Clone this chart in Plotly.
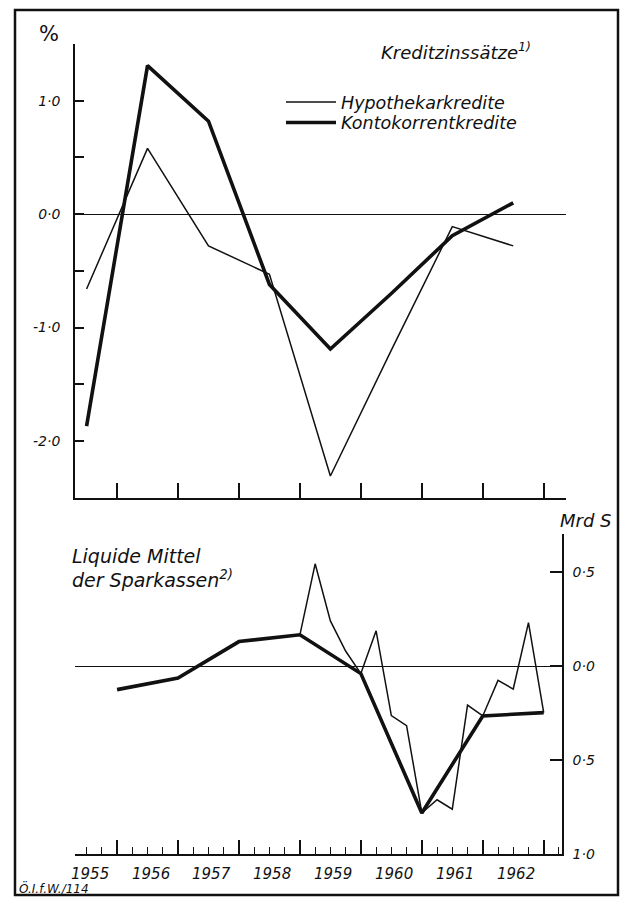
import plotly.graph_objects as go

# ---------------- data ----------------
# Top panel: Kreditzinssätze (annual, plotted at mid-year)
rate_years = [1955, 1956, 1957, 1958, 1959, 1960, 1961, 1962]
hypothekarkredite = [-0.66, 0.58, -0.28, -0.53, -2.31, -1.20, -0.11, -0.28]
kontokorrentkredite = [-1.87, 1.31, 0.82, -0.62, -1.19, -0.70, -0.19, 0.10]

# Bottom panel: Liquide Mittel der Sparkassen (Mrd S)
# year-end values (thick line)
liq_years = [1955, 1956, 1957, 1958, 1959, 1960, 1961, 1962]
liq_year_end = [-0.125, -0.063, 0.13, 0.166, -0.04, -0.78, -0.265, -0.247]
# quarter-end values (thin line)
liq_quarters = ["1958 Q4",
                "1959 Q1", "1959 Q2", "1959 Q3", "1959 Q4",
                "1960 Q1", "1960 Q2", "1960 Q3", "1960 Q4",
                "1961 Q1", "1961 Q2", "1961 Q3", "1961 Q4",
                "1962 Q1", "1962 Q2", "1962 Q3", "1962 Q4"]
liq_quarterly = [0.166,
                 0.543, 0.24, 0.08, -0.04,
                 0.187, -0.263, -0.316, -0.78,
                 -0.71, -0.76, -0.207, -0.265,
                 -0.076, -0.122, 0.231, -0.247]

year_labels = ["1955", "1956", "1957", "1958", "1959", "1960", "1961", "1962"]
top_ytick_vals = [1.0, 0.0, -1.0, -2.0]
top_ytick_text = ["1·0", "0·0", "-1·0", "-2·0"]
bot_ytick_vals = [0.5, 0.0, -0.5, -1.0]
bot_ytick_text = ["0·5", "0·0", "0·5", "1·0"]

# ---------------- helpers ----------------
def mid_year(y):
    return y + 0.5

def year_end(y):
    return y + 1.0

def quarter_end(label):
    y, q = label.split(" Q")
    return int(y) + int(q) / 4.0

W, H = 628, 906
FONT = "DejaVu Sans, Verdana, sans-serif"
INK = "#111111"

def px_x(p):
    return p / W

def px_y(p):
    return 1 - p / H

# x mapping: 1955.31 at px 75, 1963.30 at px 562
X0, X1 = 1955.31, 1963.30
PX0, PX1 = 75, 562
scale = (PX1 - PX0) / (X1 - X0)
top_x_end = X0 + (566 - PX0) / scale

fig = go.Figure()

fig.add_trace(go.Scatter(
    x=[mid_year(y) for y in rate_years], y=hypothekarkredite,
    mode="lines", name="Hypothekarkredite", legend="legend",
    line=dict(color=INK, width=1.5), xaxis="x2", yaxis="y2"))
fig.add_trace(go.Scatter(
    x=[mid_year(y) for y in rate_years], y=kontokorrentkredite,
    mode="lines", name="Kontokorrentkredite", legend="legend2",
    line=dict(color=INK, width=3.6), xaxis="x2", yaxis="y2"))

fig.add_trace(go.Scatter(
    x=[quarter_end(q) for q in liq_quarters], y=liq_quarterly,
    mode="lines", showlegend=False,
    line=dict(color=INK, width=1.5), xaxis="x", yaxis="y"))
fig.add_trace(go.Scatter(
    x=[year_end(y) for y in liq_years], y=liq_year_end,
    mode="lines", showlegend=False,
    line=dict(color=INK, width=3.6), xaxis="x", yaxis="y"))

tickfont = dict(family=FONT, size=14, color=INK, style="italic")
legfont = dict(family=FONT, size=17.5, color=INK, style="italic")

fig.update_layout(
    width=W, height=H, autosize=False,
    margin=dict(l=0, r=0, t=0, b=0),
    paper_bgcolor="white", plot_bgcolor="white",
    showlegend=True,
    legend=dict(x=px_x(281), y=px_y(85), xanchor="left", yanchor="top",
                font=legfont, bgcolor="rgba(0,0,0,0)", itemwidth=50),
    legend2=dict(x=px_x(281), y=px_y(105.5), xanchor="left", yanchor="top",
                 font=legfont, bgcolor="rgba(0,0,0,0)", itemwidth=50),
    # bottom panel
    xaxis=dict(domain=[px_x(PX0), px_x(PX1)], range=[X0, X1],
               anchor="y", showline=True, linecolor=INK, linewidth=1.6,
               showgrid=False, zeroline=False,
               tickmode="array", tickvals=[year_end(y) for y in rate_years],
               ticks="inside", ticklen=15, tickwidth=1.5, tickcolor=INK,
               showticklabels=False,
               minor=dict(dtick=0.25, tick0=1955.5, ticks="inside", ticklen=8,
                          tickwidth=1.3, tickcolor=INK, showgrid=False)),
    yaxis=dict(domain=[px_y(862), px_y(539)], range=[-1.0, 0.70],
               anchor="x", side="right", showline=True, linecolor=INK,
               linewidth=1.6, showgrid=False,
               zeroline=True, zerolinecolor=INK, zerolinewidth=1.2,
               tickmode="array", tickvals=bot_ytick_vals, ticktext=bot_ytick_text,
               ticks="inside", ticklen=12, tickwidth=1.5, tickcolor=INK,
               tickfont=tickfont, ticklabelstandoff=6),
    # top panel
    xaxis2=dict(domain=[px_x(PX0), px_x(566)], range=[X0, top_x_end],
                anchor="y2", showline=True, linecolor=INK, linewidth=1.6,
                showgrid=False, zeroline=False,
                tickmode="array", tickvals=[year_end(y) for y in rate_years],
                ticks="inside", ticklen=15, tickwidth=1.5, tickcolor=INK,
                showticklabels=False),
    yaxis2=dict(domain=[px_y(502), px_y(44.5)], range=[-2.5, 1.5],
                anchor="x2", showline=True, linecolor=INK, linewidth=1.6,
                showgrid=False,
                zeroline=True, zerolinecolor=INK, zerolinewidth=1.2,
                tickmode="array", tickvals=top_ytick_vals, ticktext=top_ytick_text,
                ticks="inside", ticklen=9, tickwidth=1.5, tickcolor=INK,
                tickfont=tickfont, ticklabelstandoff=10,
                minor=dict(tickvals=[1.5, 0.5, -0.5, -1.5], ticks="inside",
                           ticklen=9, tickwidth=1.5, tickcolor=INK, showgrid=False)),
)

ann = []
def add_text(text, x, y, size, xanchor="left", yanchor="middle", italic=True):
    ann.append(dict(text=text, x=x, y=y, xref="paper", yref="paper",
                    xanchor=xanchor, yanchor=yanchor, showarrow=False,
                    font=dict(family=FONT, size=size, color=INK,
                              style="italic" if italic else "normal")))

add_text("%", px_x(37), px_y(34), 21, italic=False)
add_text("Kreditzinssätze<sup>1)</sup>", px_x(533), px_y(51), 18, xanchor="right")
add_text("Mrd S", px_x(614), px_y(525), 18, xanchor="right")
add_text("Liquide Mittel", px_x(70), px_y(561), 19)
add_text("der Sparkassen<sup>2)</sup>", px_x(70), px_y(584), 19)
add_text("Ö.I.f.W./114", px_x(17), px_y(896), 12)

for lab, y in zip(year_labels, rate_years):
    ann.append(dict(text=lab, x=mid_year(y) + 0.05, y=px_y(882), xref="x", yref="paper",
                    xanchor="center", yanchor="middle", showarrow=False,
                    font=dict(family=FONT, size=15, color=INK, style="italic")))

fig.update_layout(annotations=ann)

fig.add_shape(type="rect", xref="paper", yref="paper",
              x0=px_x(15), x1=px_x(618), y0=px_y(903), y1=px_y(10),
              line=dict(color=INK, width=2.5), fillcolor="rgba(0,0,0,0)")

fig.write_html("out.html", config={"displayModeBar": False},
               post_script="document.body.style.margin='0';")
